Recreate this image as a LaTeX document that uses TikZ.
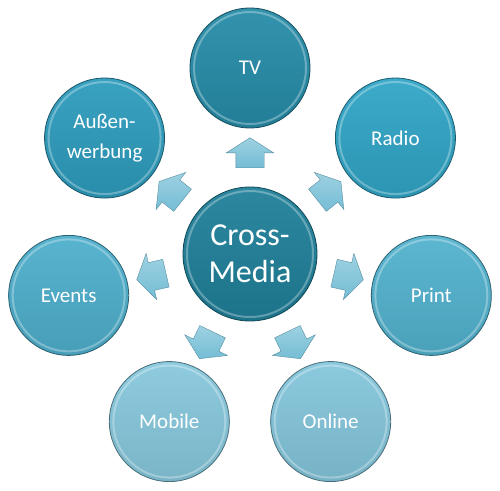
\documentclass[tikz,border=0pt]{standalone}
\usepackage{fontspec}
\setmainfont{Carlito}
\usetikzlibrary{positioning,calc,shapes.arrows}

\definecolor{cmblue}{HTML}{1F8099}
\definecolor{tvblue}{HTML}{268CA8}
\definecolor{radioblue}{HTML}{30A5C6}
\definecolor{aussenblue}{HTML}{2D9CBD}
\definecolor{printblue}{HTML}{52B2CE}
\definecolor{eventsblue}{HTML}{4EAFCC}
\definecolor{onlineblue}{HTML}{84C6DC}
\definecolor{mobileblue}{HTML}{87C8DD}
\definecolor{arrowblue}{HTML}{74BDD5}

\begin{document}
\begin{tikzpicture}[x=1pt, y=1pt,
    media/.style={circle, minimum size=120pt, inner sep=0pt, align=center, text=white,
      font=\fontsize{21}{30}\selectfont, draw=#1!55!black, line width=0.8pt,
      top color=#1!94!white, bottom color=#1!90!black,
      path picture={\draw[white, draw opacity=0.3, line width=2pt]
        (path picture bounding box.center) circle (56pt);}},
    hub/.style={circle, minimum size=134pt, inner sep=0pt, align=center, text=white,
      font=\fontsize{32}{37}\selectfont, draw=cmblue!55!black, line width=0.8pt,
      top color=cmblue!94!white, bottom color=cmblue!90!black,
      path picture={\draw[white, draw opacity=0.3, line width=2pt]
        (path picture bounding box.center) circle (63pt);}},
    blockarrow/.style={single arrow, draw=arrowblue!75!black, line width=0.4pt,
      top color=arrowblue!70!white, bottom color=arrowblue,
      minimum height=30pt, inner xsep=0pt, inner ysep=14pt,
      single arrow head extend=9.5pt, single arrow tip angle=115,
      single arrow head indent=0pt}
    ]
    \useasboundingbox (0,0) rectangle (500,490);

    \node[hub] (cm) at (250,236) {Cross-\\Media};

    \node[media=tvblue] (tv) at ($(cm)+(90:186)$) {TV};
    \node[media=radioblue] (radio) at ($(cm)+(38.57:186)$) {Radio};
    \node[media=printblue] (print) at ($(cm)+(-12.86:186)$) {Print};
    \node[media=onlineblue] (online) at ($(cm)+(-64.29:186)$) {Online};
    \node[media=mobileblue] (mobile) at ($(cm)+(-115.71:186)$) {Mobile};
    \node[media=eventsblue] (events) at ($(cm)+(-167.14:186)$) {Events};
    \node[media=aussenblue] (aussen) at ($(cm)+(141.43:186)$) {Außen-\\werbung};

    \foreach \a/\m in {90/tv,38.57/radio,-12.86/print,-64.29/online,-115.71/mobile,-167.14/events,141.43/aussen} {
      \node[blockarrow, rotate=\a] (arr-\m) at ($(cm)!0.52!(\m)$) {};
    };
\end{tikzpicture}
\end{document}
